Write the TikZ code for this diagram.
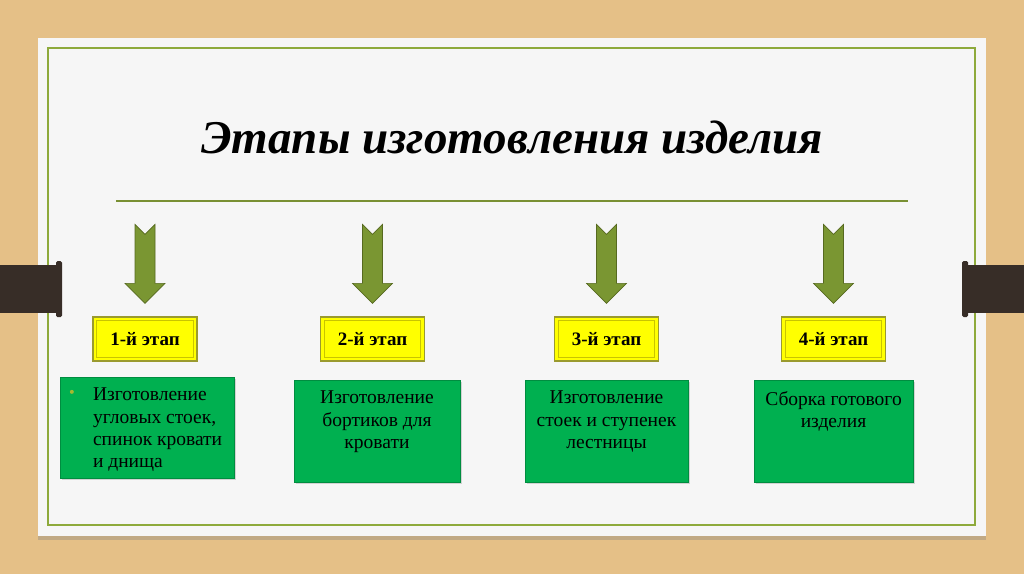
\documentclass[tikz,border=0pt]{standalone}
\usepackage{fontspec}
\setmainfont{Liberation Serif}
\usetikzlibrary{calc,shadows}
\definecolor{wood}{HTML}{E5C087}
\definecolor{cardwhite}{HTML}{F6F6F6}
\definecolor{framegreen}{HTML}{8EAA3C}
\definecolor{olivefill}{HTML}{7A9632}
\definecolor{olivedark}{HTML}{56691F}
\definecolor{barbrown}{HTML}{372D27}
\definecolor{yellowfill}{HTML}{FFFF00}
\definecolor{yellowedge}{HTML}{9A9A2E}
\definecolor{yellowinner}{HTML}{C9C400}
\definecolor{boxgreen}{HTML}{00B050}
\definecolor{bulletgreen}{HTML}{A5B830}
\tikzset{
  frameline/.style={draw=framegreen, line width=1.4pt},
  ruleline/.style={draw=framegreen!85!black, line width=1.3pt},
  darrow/.style={fill=olivefill, draw=olivedark, line width=0.6pt, line join=miter},
  ybox/.style={rectangle, fill=yellowfill, draw=yellowedge, line width=1.2pt,
    minimum width=104pt, minimum height=44pt, inner sep=0pt,
    font=\fontsize{19}{22}\selectfont\bfseries},
  yinner/.style={draw=yellowinner, line width=1pt},
  gbox/.style={rectangle, fill=boxgreen, draw=boxgreen!80!black, line width=0.3pt,
    inner sep=0pt, drop shadow={shadow xshift=2pt, shadow yshift=-2pt, opacity=0.3}},
  gtext/.style={anchor=north, inner sep=0pt, align=center,
    font=\fontsize{19.5}{22.3}\selectfont},
  ttext/.style={font=\fontsize{47}{52}\selectfont\bfseries\itshape, inner sep=0pt},
  bar/.style={fill=barbrown},
}
\begin{document}
\begin{tikzpicture}[x=1pt,y=-1pt]
\useasboundingbox (0,0) rectangle (1024,574);
% background
\fill[wood] (0,0) rectangle (1024,574);
% card
\fill[cardwhite, drop shadow={shadow xshift=0pt, shadow yshift=-4pt, opacity=0.35}] (38,38) rectangle (986,536);
\draw[frameline] (48,48) rectangle (975,525);
% dark bars
\fill[bar] (0,265) rectangle (58,313);
\fill[bar, rounded corners=1.5pt] (56,261) rectangle (62,317);
\fill[bar] (966,265) rectangle (1024,313);
\fill[bar, rounded corners=1.5pt] (962,261) rectangle (968,317);
% title
\node[ttext] (title) at (512,137) {Этапы изготовления изделия};
\coordinate (ruleL) at (116,201);
\coordinate (ruleR) at (908,201);
\draw[ruleline] (ruleL) -- (ruleR);
% yellow stage boxes
\node[ybox] (y1) at (145,339) {1-й этап};
\node[ybox] (y2) at (372.5,339) {2-й этап};
\node[ybox] (y3) at (606.5,339) {3-й этап};
\node[ybox] (y4) at (833.5,339) {4-й этап};
\foreach \i in {1,2,3,4}{
  \draw[yinner] ($(y\i.south west)+(4.5,-4.5)$) rectangle ($(y\i.north east)+(-4.5,4.5)$);
  \coordinate (tip\i) at ($(y\i.north)+(0,-13)$);
  \draw[darrow] (tip\i) -- ++(-20,-20) -- ++(10,0) -- ++(0,-59) -- ++(10,10)
     -- ++(10,-10) -- ++(0,59) -- ++(10,0) -- cycle;
}
% green boxes
\node[gbox, minimum width=174pt, minimum height=101pt] (g1) at (147,427.5) {};
\node[gbox, minimum width=166pt, minimum height=102pt] (g2) at (377,431) {};
\node[gbox, minimum width=163pt, minimum height=102pt] (g3) at (606.5,431) {};
\node[gbox, minimum width=159pt, minimum height=102pt] (g4) at (833.5,431) {};
\fill[bulletgreen] ($(g1.north west)+(12,15)$) circle (2pt);
\node[gtext, anchor=north west, align=left] (t1) at ($(g1.north west)+(33,11)$)
  {Изготовление\\угловых стоек,\\спинок кровати\\и днища};
\node[gtext] (t2) at ($(g2.north)+(0,11)$) {Изготовление\\бортиков для\\кровати};
\node[gtext] (t3) at ($(g3.north)+(0,11)$) {Изготовление\\стоек и ступенек\\лестницы};
\node[gtext] (t4) at ($(g4.north)+(0,11)$) {Сборка готового\\изделия};
\end{tikzpicture}
\end{document}
